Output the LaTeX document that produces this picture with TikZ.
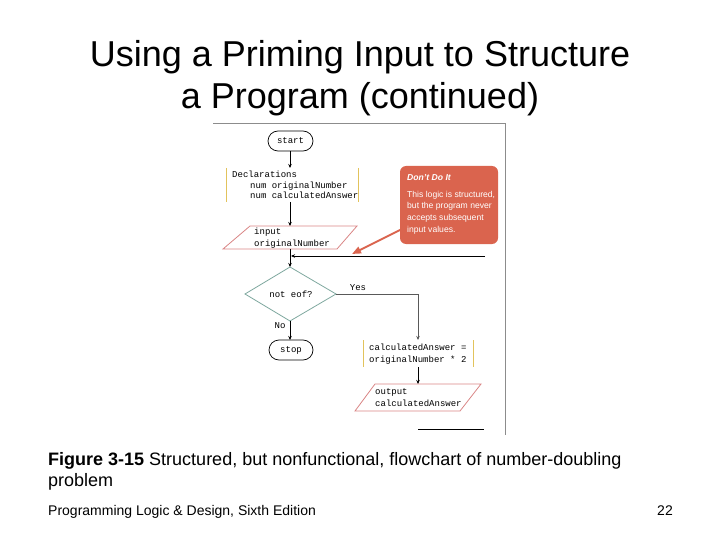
\documentclass[tikz,border=0pt]{standalone}
\usepackage{fontspec}
\setmainfont{Liberation Sans}
\newfontfamily\codefont{Liberation Mono}
\usetikzlibrary{arrows.meta}
\definecolor{calloutred}{HTML}{DA644E}
\definecolor{ioline}{HTML}{D98585}
\definecolor{decline}{HTML}{7FA89F}
\definecolor{bracketgold}{HTML}{E2C35C}
\definecolor{framegray}{HTML}{8C8C8C}
\tikzset{
  code/.style={font=\codefont\fontsize{9}{10}\selectfont, inner sep=0pt, anchor=base west},
  codec/.style={font=\codefont\fontsize{9}{10}\selectfont, inner sep=0pt},
  flow/.style={line width=0.8pt, -{Stealth[length=4pt,width=3.5pt]}},
  term/.style={draw, line width=0.7pt, rounded corners=10pt},
  bracket/.style={draw=bracketgold, line width=1pt},
  calltext/.style={font=\fontsize{8.6}{9}\selectfont, text=white, inner sep=0pt, anchor=base west},
  captext/.style={font=\fontsize{18}{21}\selectfont, anchor=base west, inner sep=0pt},
}
\begin{document}
\begin{tikzpicture}[x=1pt,y=-1pt]
\useasboundingbox (0,0) rectangle (720,540);

% title
\node[font=\fontsize{36}{42}\selectfont, anchor=base] (t1) at (360,67) {Using a Priming Input to Structure};
\node[font=\fontsize{36}{42}\selectfont, anchor=base] (t2) at (360,109) {a Program (continued)};

% figure frame
\draw[framegray, line width=1pt] (213,124) -- (505,124) -- (505,435);

% start
\draw[term] (268,131) rectangle (313,151);
\node[codec] (start) at (290.5,141) {start};

% declarations
\draw[bracket] (226,168) -- (226,202);
\draw[bracket] (358,168) -- (358,202);
\node[code] (d1) at (232,178) {Declarations};
\node[code] (d2) at (250,188.5) {num originalNumber};
\node[code] (d3) at (250,199) {num calculatedAnswer};

% input
\draw[ioline, line width=0.8pt] (223,249) -- (250,226) -- (357,226) -- (337,249) -- cycle;
\node[code] (in1) at (254,234.5) {input};
\node[code] (in2) at (254,246) {originalNumber};

% decision
\draw[decline, line width=0.8pt] (290,267) -- (336,294) -- (290,321) -- (245,294) -- cycle;
\node[codec] (dec) at (291,294) {not eof?};
\node[codec] (yes) at (358,287.5) {Yes};
\node[codec] (no) at (280,326) {No};

% stop
\draw[term] (269,340) rectangle (313,360);
\node[codec] (stop) at (291,350) {stop};

% assignment
\draw[bracket] (363,340) -- (363,367);
\draw[bracket] (473,340) -- (473,367);
\node[code] (a1) at (369,350) {calculatedAnswer =};
\node[code] (a2) at (369,362) {originalNumber * 2};

% output
\draw[ioline, line width=0.8pt] (355,411) -- (375,384) -- (481,384) -- (460,411) -- cycle;
\node[code] (o1) at (375,394) {output};
\node[code] (o2) at (375,406.5) {calculatedAnswer};

% flow lines
\coordinate (sB) at (290,151);
\coordinate (dT) at (290,168);
\coordinate (dB) at (290,202);
\coordinate (iT) at (290,226);
\coordinate (iB) at (290,249);
\coordinate (decT) at (290,267);
\coordinate (decB) at (290,321);
\coordinate (decR) at (336,294);
\coordinate (stT) at (290,340);
\coordinate (asT) at (418,340);
\coordinate (asB) at (418,367);
\coordinate (oT) at (418,384);
\coordinate (loopS) at (485,256);
\coordinate (loopE) at (291,256);
\draw[flow] (sB) -- (dT);
\draw[flow] (dB) -- (iT);
\draw[flow] (iB) -- (decT);
\draw[flow] (decB) -- (stT);
\draw[flow, draw=gray!70!black, line width=0.6pt] (decR) -| (asT);
\draw[flow, line width=0.6pt] (asB) -- (oT);
\draw[flow, line width=0.8pt] (loopS) -- (loopE);
\coordinate (botL) at (418,429);
\coordinate (botR) at (484,429);
\draw[line width=0.8pt] (botL) -- (botR);

% callout
\path[fill=calloutred, rounded corners=6pt] (400,166) rectangle (498,244);
\node[calltext, font=\bfseries\itshape\fontsize{8.6}{9}\selectfont] (c0) at (407,181) {Don't Do It};
\node[calltext] (c1) at (407,197) {This logic is structured,};
\node[calltext] (c2) at (407,209) {but the program never};
\node[calltext] (c3) at (407,221) {accepts subsequent};
\node[calltext] (c4) at (407,233) {input values.};
\coordinate (arrS) at (402,229);
\coordinate (arrE) at (352,254);
\draw[calloutred, line width=2pt, -{Triangle[length=9pt,width=7pt]}] (arrS) -- (arrE);

% caption
\node[captext] (cap1) at (48,465) {\textbf{Figure 3-15} Structured, but nonfunctional, flowchart of number-doubling};
\node[captext] (cap2) at (48,486) {problem};

% footer
\node[font=\fontsize{14}{16}\selectfont, anchor=base west, inner sep=0pt] (foot) at (48,515) {Programming Logic \& Design, Sixth Edition};
\node[font=\fontsize{14}{16}\selectfont, anchor=base east, inner sep=0pt] (num) at (673,515) {22};
\end{tikzpicture}
\end{document}
